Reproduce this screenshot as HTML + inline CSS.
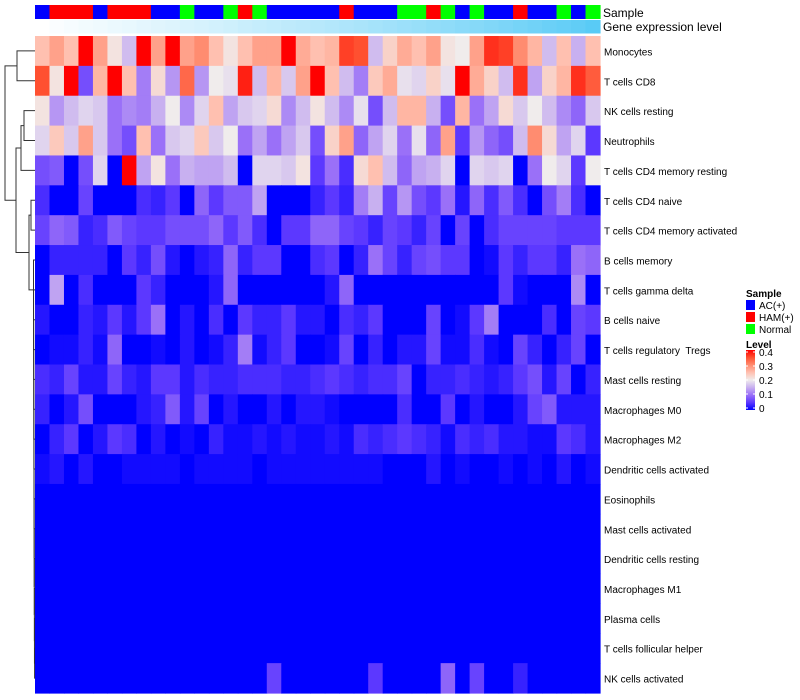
<!DOCTYPE html>
<html><head><meta charset="utf-8"><style>
body{margin:0;background:#fff;}
svg{display:block;font-family:"Liberation Sans",sans-serif;}
</style></head><body>
<svg id="chart" width="800" height="700" xmlns="http://www.w3.org/2000/svg">
<defs><linearGradient id="lg" x1="0" y1="1" x2="0" y2="0">
<stop offset="0" stop-color="#0000ff"/><stop offset="0.125" stop-color="#5c38ff"/><stop offset="0.25" stop-color="#9a70f8"/><stop offset="0.375" stop-color="#c8b0f0"/><stop offset="0.5" stop-color="#f0ecec"/><stop offset="0.625" stop-color="#ffc0b0"/><stop offset="0.75" stop-color="#ff8c70"/><stop offset="0.875" stop-color="#ff5030"/><stop offset="1" stop-color="#ff0000"/>
</linearGradient></defs>
<g id="g-dendro"></g>
<g id="g-annot"></g>
<g id="g-cells"></g>
<g id="g-labels"></g>
<text x="603" y="17" font-size="12">Sample</text>
<text x="603" y="31" font-size="12">Gene expression level</text>
<g>
<text x="746" y="297" font-size="10" font-weight="bold">Sample</text>
<rect x="746" y="300" width="9" height="10" fill="#0000ff"/>
<text x="759" y="309" font-size="10">AC(+)</text>
<rect x="746" y="312" width="9" height="10" fill="#ff0000"/>
<text x="759" y="321" font-size="10">HAM(+)</text>
<rect x="746" y="324" width="9" height="10" fill="#00ff00"/>
<text x="759" y="333" font-size="10">Normal</text>
<text x="746" y="348" font-size="10" font-weight="bold">Level</text>
<rect x="746" y="350" width="9" height="60" fill="url(#lg)"/>
<g id="g-lticks"></g>
</g>
</svg>
<script>
var rowNames=["Monocytes","T cells CD8","NK cells resting","Neutrophils","T cells CD4 memory resting","T cells CD4 naive","T cells CD4 memory activated","B cells memory","T cells gamma delta","B cells naive","T cells regulatory  Tregs","Mast cells resting","Macrophages M0","Macrophages M2","Dendritic cells activated","Eosinophils","Mast cells activated","Dendritic cells resting","Macrophages M1","Plasma cells","T cells follicular helper","NK cells activated"];
var sampleGroups=["B","R","R","R","B","R","R","R","B","B","G","B","B","G","R","G","B","B","B","B","B","R","B","B","B","G","G","R","G","B","G","B","B","R","B","B","G","B","G"];
var geneLevel=[0,0.03,0.05,0.07,0.09,0.11,0.13,0.15,0.17,0.19,0.21,0.23,0.25,0.27,0.3,0.32,0.34,0.36,0.38,0.4,0.42,0.45,0.47,0.5,0.52,0.55,0.57,0.6,0.62,0.65,0.67,0.7,0.73,0.76,0.79,0.82,0.85,0.88,0.92];
var r0=[.25,.28,.25,.4,.28,.21,.16,.4,.28,.4,.28,.3,.25,.21,.25,.28,.28,.4,.27,.25,.26,.36,.35,.16,.23,.27,.25,.28,.21,.2,.28,.37,.36,.3,.26,.16,.25,.15,.25];
var r1=[.35,.21,.4,.07,.26,.4,.25,.11,.22,.13,.33,.13,.2,.19,.38,.16,.26,.17,.28,.4,.25,.16,.11,.24,.27,.19,.18,.23,.19,.4,.27,.23,.16,.37,.14,.23,.26,.37,.34];
var r2=[.21,.13,.16,.18,.17,.1,.12,.11,.15,.2,.12,.18,.25,.14,.17,.18,.22,.12,.16,.21,.16,.12,.19,.07,.16,.26,.26,.15,.07,.26,.1,.14,.22,.17,.2,.16,.12,.09,.17];
var r3=[.18,.24,.17,.28,.17,.1,.07,.25,.1,.17,.18,.24,.17,.2,.1,.14,.1,.14,.17,.07,.23,.28,.09,.14,.18,.1,.19,.09,.28,.05,.13,.09,.07,.16,.3,.22,.14,.18,.05];
var r4=[.07,.08,0,.07,.18,0,.4,.14,.21,.1,.15,.14,.14,.16,0,.18,.18,.17,.21,.05,.1,.04,.22,.25,.16,.09,.14,.15,.18,0,.18,.17,.18,0,.1,.2,.18,.05,.2];
var r5=[.04,0,0,.06,0,0,0,.04,.03,.05,0,.09,.05,.08,.08,.14,0,0,0,.03,.05,.03,.11,.15,.06,.13,.07,.05,.1,.02,.09,.04,.08,.04,0,.07,.11,.04,0];
var r6=[.06,.09,.08,.03,.04,.08,.06,.05,.05,.07,.07,.07,.09,.05,.08,.04,0,.05,.05,.09,.09,.06,.05,.03,.06,.05,.03,.06,0,.06,0,.04,.06,.06,.06,.06,.05,.05,.05];
var r7=[0,.03,.03,.03,.03,0,.05,.03,.07,.02,0,.02,.03,.09,.03,.05,.05,0,0,.04,.05,0,.03,.1,.06,.03,.06,.07,.05,.05,0,.01,.05,.03,.05,.05,.03,.1,.09];
var r8=[0,.14,0,.04,0,0,0,.05,.03,0,0,0,.02,.09,0,0,0,0,0,0,.02,.09,0,0,0,0,0,0,0,0,0,0,.05,.01,0,0,0,.12,0];
var r9=[.02,0,0,.03,.02,.05,.02,.05,.1,0,.02,0,.04,0,.05,.03,.03,.05,.02,.02,0,.04,.03,.05,0,0,0,.06,0,.01,.05,.11,0,0,0,.04,0,.06,.05];
var r10=[0,.01,.01,.03,.01,.09,0,0,.01,0,.02,0,.01,.03,.11,.01,.03,.05,0,0,.01,.06,0,.03,0,.02,.02,.06,.01,.01,.04,.01,0,.06,.03,0,.03,.06,0];
var r11=[.04,.03,.06,.02,.02,.06,.03,.02,.05,.05,.02,.04,.03,.03,.04,.04,.04,.03,.03,.04,.05,.04,.03,.04,.04,.06,0,.03,.03,.04,.03,.02,.03,.05,.07,.02,.06,0,.03];
var r12=[.03,0,.02,.07,0,0,0,.02,.03,.08,.02,.06,0,.02,0,0,.02,0,.02,.02,.01,0,0,0,0,.04,0,0,.05,0,.02,0,0,.02,.06,.08,.02,.02,.02];
var r13=[0,.03,.05,0,.02,.05,.04,0,.02,0,.01,0,.03,.01,.01,.02,.01,.02,.01,.01,.02,.01,.04,.03,.04,.05,.04,.03,.01,.04,.03,.04,.02,.02,.01,.01,.05,.04,.02];
var r14=[.01,.02,0,.02,0,0,.01,.01,.01,.01,0,.01,.01,.01,.01,0,.01,.01,.01,.01,.01,.01,.01,.01,0,0,0,.02,0,.01,0,0,.01,0,.01,0,.02,0,.01];
var r15=[0,0,0,0,0,0,0,0,0,0,0,0,0,0,0,0,0,0,0,0,0,0,0,0,0,0,0,0,0,0,0,0,0,0,0,0,0,0,0];
var r16=[0,0,0,0,0,0,0,0,0,0,0,0,0,0,0,0,0,0,0,0,0,0,0,0,0,0,0,0,0,0,0,0,0,0,0,0,0,0,0];
var r17=[0,0,0,0,0,0,0,0,0,0,0,0,0,0,0,0,0,0,0,0,0,0,0,0,0,0,0,0,0,0,0,0,0,0,0,0,0,0,0];
var r18=[0,0,0,0,0,0,0,0,0,0,0,0,0,0,0,0,0,0,0,0,0,0,0,0,0,0,0,0,0,0,0,0,0,0,0,0,0,0,0];
var r19=[0,0,0,0,0,0,0,0,0,0,0,0,0,0,0,0,0,0,0,0,0,0,0,0,0,0,0,0,0,0,0,0,0,0,0,0,0,0,0];
var r20=[0,0,0,0,0,0,0,0,0,0,0,0,0,0,0,0,0,0,0,0,0,0,0,0,0,0,0,0,0,0,0,0,0,0,0,0,0,0,0];
var r21=[0,0,0,0,0,0,0,0,0,0,0,0,0,0,0,0,.06,0,0,0,0,0,0,.05,0,0,0,0,.09,0,.06,0,0,.03,0,0,0,0,0];
var heatValues=[r0,r1,r2,r3,r4,r5,r6,r7,r8,r9,r10,r11,r12,r13,r14,r15,r16,r17,r18,r19,r20,r21];
var levelTicks=[0,0.1,0.2,0.3,0.4];

var SVGNS="http://www.w3.org/2000/svg";
var HX0=35,HX1=600,HY0=36,HY1=693;
var nCols=39,nRows=22,cellW=(HX1-HX0)/nCols,cellH=(HY1-HY0)/nRows;
function xPos(i){return HX0+i*cellW;}
function yPos(r){return HY0+r*cellH;}
var colorStops=[[0,[0,0,255]],[.05,[92,56,255]],[.1,[154,112,248]],[.15,[200,176,240]],[.2,[240,236,236]],[.25,[255,192,176]],[.3,[255,140,112]],[.35,[255,80,48]],[.4,[255,0,0]]];
function heatColor(v){
  v=Math.max(0,Math.min(.4,v));
  for(var k=1;k<colorStops.length;k++){
    if(v<=colorStops[k][0]){
      var a=colorStops[k-1],b=colorStops[k],t=(v-a[0])/(b[0]-a[0]);
      var c=[0,1,2].map(function(j){return Math.round(a[1][j]+(b[1][j]-a[1][j])*t);});
      return "rgb("+c.join(",")+")";
    }
  }
  return "rgb(255,0,0)";
}
function mkEl(tag,attrs,parent){
  var e=document.createElementNS(SVGNS,tag);
  for(var k in attrs){e.setAttribute(k,attrs[k]);}
  parent.appendChild(e);
  return e;
}
try{
var cellsG=document.getElementById('g-cells');
for(var r=0;r<heatValues.length;r++){
  for(var i=0;i<heatValues[r].length;i++){
    var cell=mkEl('rect',{x:xPos(i),y:yPos(r),width:cellW+0.6,height:cellH+0.6,fill:heatColor(heatValues[r][i])},cellsG);
    
    
  }
}
var annotG=document.getElementById('g-annot');
var groupColor={B:"#0000ff",R:"#ff0000",G:"#00ff00"};
for(var i2=0;i2<sampleGroups.length;i2++){
  var sc=mkEl('rect',{x:xPos(i2),y:5,width:cellW+0.6,height:14,fill:groupColor[sampleGroups[i2]]},annotG);
  
  
}
for(var i3=0;i3<geneLevel.length;i3++){
  var v=geneLevel[i3];
  var gcol="rgb("+Math.round(255-180*v)+","+Math.round(255-57*v)+","+Math.round(255-10*v)+")";
  var gc=mkEl('rect',{x:xPos(i3),y:20,width:cellW+0.6,height:13.5,fill:gcol},annotG);
  
  
}
var labelsG=document.getElementById('g-labels');
for(var r2=0;r2<rowNames.length;r2++){
  var tx=mkEl('text',{x:604,y:yPos(r2)+cellH/2+4.5,'font-size':10},labelsG);
  tx.setAttribute('style','white-space:pre');
  tx.textContent=rowNames[r2];
  
  
}
var dendroG=document.getElementById('g-dendro');
function drawNode(t){
  if(typeof t==='number'){return {x:HX0,y:yPos(t)+cellH/2};}
  var a=drawNode(t[0]),b=drawNode(t[1]),x=t[2];
  var p=mkEl('path',{d:"M"+a.x+","+a.y+"H"+x+"V"+b.y+"H"+b.x,fill:'none',stroke:'#333','stroke-width':1},dendroG);
  
  
  return {x:x,y:(a.y+b.y)/2};
}
var chain=[20,21,34.6];
for(var rr=19;rr>=7;rr--){chain=[rr,chain,33.5+(rr-7)*0.08];}
var treeDef=[[0,1,17],[[[2,3,24],4,21],[[5,6,31],chain,29],16],5];
drawNode(treeDef);
var ltG=document.getElementById('g-lticks');
for(var k=0;k<levelTicks.length;k++){
  var tv=levelTicks[k];
  var ty=410-tv/0.4*56-2;
  var tl=mkEl('text',{x:759,y:ty+4,'font-size':10},ltG);
  tl.textContent=tv===0?"0":String(tv);
  
  
  mkEl('line',{x1:746,x2:748,y1:ty,y2:ty,stroke:'#fff'},ltG);
  mkEl('line',{x1:753,x2:755,y1:ty,y2:ty,stroke:'#fff'},ltG);
}
}catch(err){console.log(err);}
</script>
</body></html>
